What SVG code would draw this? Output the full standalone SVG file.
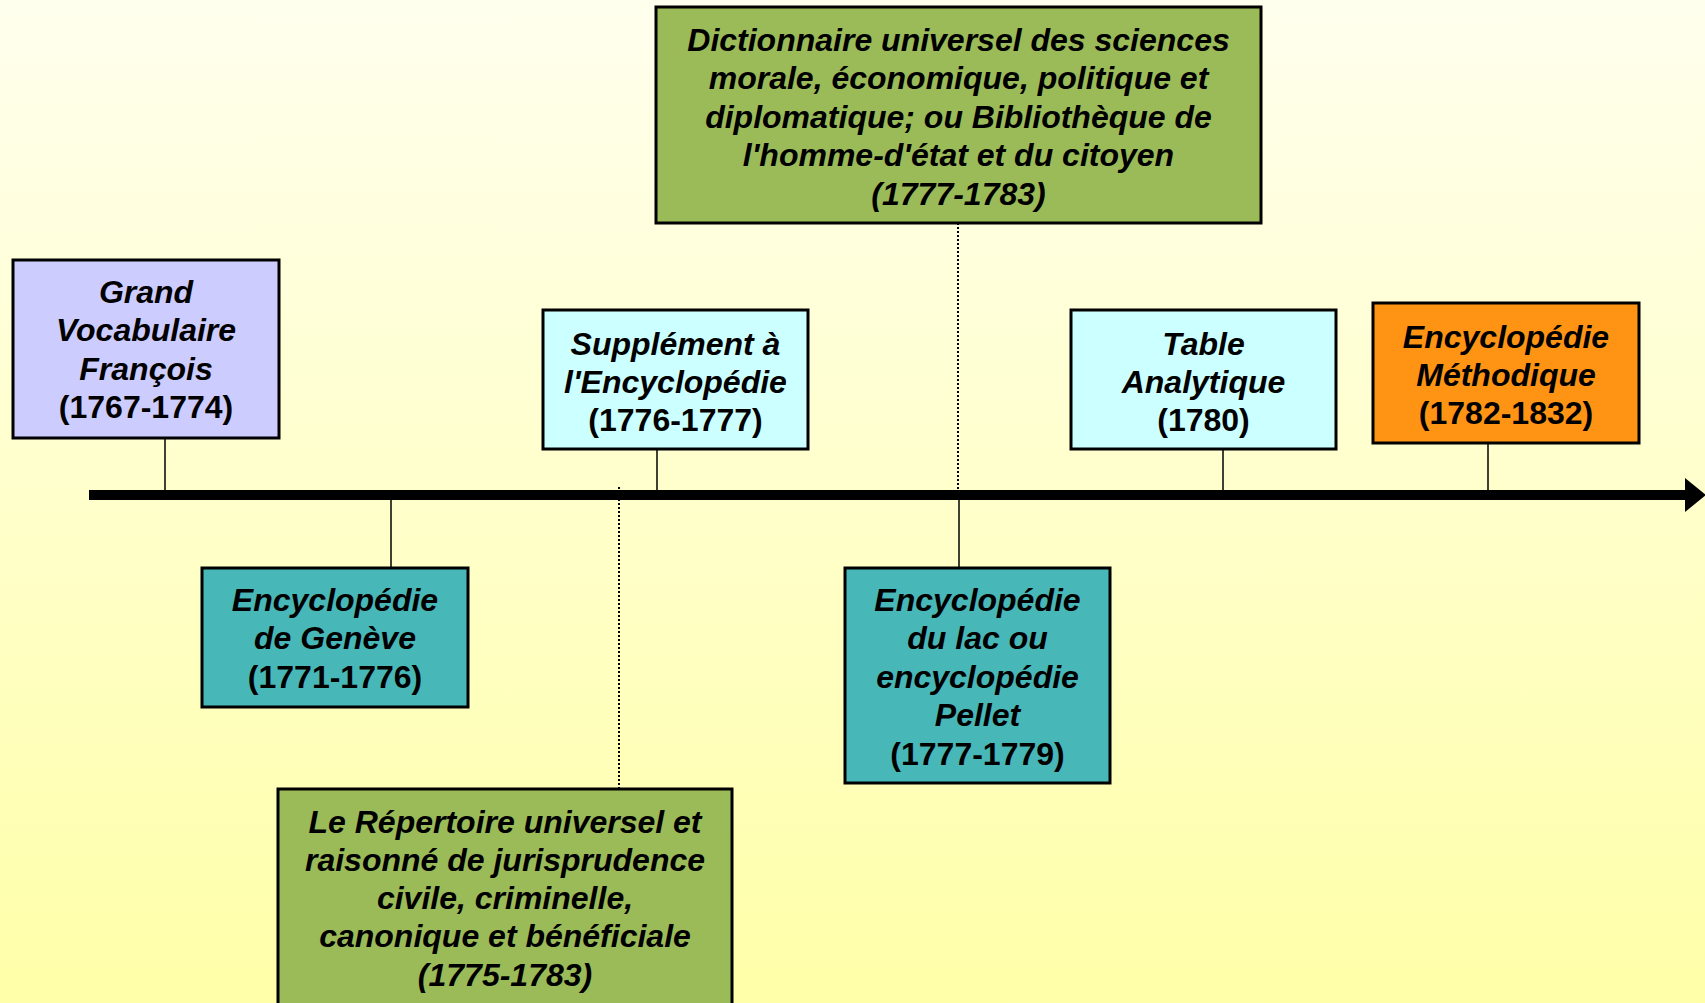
<svg xmlns="http://www.w3.org/2000/svg" width="1705" height="1003" viewBox="0 0 1705 1003">
  <defs>
    <linearGradient id="bg" x1="0" y1="0" x2="0" y2="1">
      <stop offset="0" stop-color="#FFFFEE"/>
      <stop offset="1" stop-color="#FFFFA8"/>
    </linearGradient>
    <marker id="arrow" markerUnits="userSpaceOnUse" markerWidth="22" markerHeight="34" refX="0" refY="17" orient="auto">
      <polygon points="0,0 21,17 0,34" fill="#000"/>
    </marker>
    <style>
      .box { stroke: #000; stroke-width: 3; }
      .t { font-family: "Liberation Sans", Arial, sans-serif; font-size: 32px; font-weight: bold; font-style: italic; fill: #000; text-anchor: middle; }
      .n { font-style: normal; }
      .tick { stroke: #000; stroke-width: 1.5; fill: none; }
      .dot { stroke: #000; stroke-width: 2; stroke-dasharray: 2 2; fill: none; }
      .lav { fill: #CCCCFF; }
      .cyan { fill: #CCFFFF; }
      .green { fill: #9BBB59; }
      .teal { fill: #47B7B8; }
      .orange { fill: #FF9414; }
    </style>
  </defs>
  <rect x="0" y="0" width="1705" height="1003" fill="url(#bg)"/>

  <g id="connectors">
    <line class="tick" x1="165" y1="438" x2="165" y2="495"/>
    <line class="tick" x1="657" y1="450" x2="657" y2="495"/>
    <line class="tick" x1="1223" y1="449" x2="1223" y2="495"/>
    <line class="tick" x1="1488" y1="443" x2="1488" y2="495"/>
    <line class="tick" x1="391" y1="495" x2="391" y2="568"/>
    <line class="tick" x1="959" y1="495" x2="959" y2="568"/>
    <line class="dot" x1="958" y1="223" x2="958" y2="492"/>
    <line class="dot" x1="619" y1="487" x2="619" y2="788"/>
    <line x1="89" y1="495" x2="1685" y2="495" stroke="#000" stroke-width="10" marker-end="url(#arrow)"/>
  </g>

  <g id="grand-vocabulaire">
    <rect class="box lav" x="13" y="260" width="266" height="178"/>
    <text class="t" x="146" y="303">Grand</text>
    <text class="t" x="146" y="341">Vocabulaire</text>
    <text class="t" x="146" y="380">François</text>
    <text class="t n" x="146" y="418">(1767-1774)</text>
  </g>

  <g id="supplement">
    <rect class="box cyan" x="543" y="310" width="265" height="139"/>
    <text class="t" x="675.5" y="355">Supplément à</text>
    <text class="t" x="675.5" y="393">l'Encyclopédie</text>
    <text class="t n" x="675.5" y="431">(1776-1777)</text>
  </g>

  <g id="dictionnaire">
    <rect class="box green" x="656" y="7" width="605" height="216"/>
    <text class="t" x="958.5" y="51">Dictionnaire universel des sciences</text>
    <text class="t" x="958.5" y="89">morale, économique, politique et</text>
    <text class="t" x="958.5" y="128">diplomatique; ou Bibliothèque de</text>
    <text class="t" x="958.5" y="166">l'homme-d'état et du citoyen</text>
    <text class="t" x="958.5" y="205">(1777-1783)</text>
  </g>

  <g id="table-analytique">
    <rect class="box cyan" x="1071" y="310" width="265" height="139"/>
    <text class="t" x="1203.5" y="355">Table</text>
    <text class="t" x="1203.5" y="393">Analytique</text>
    <text class="t n" x="1203.5" y="431">(1780)</text>
  </g>

  <g id="methodique">
    <rect class="box orange" x="1373" y="303" width="266" height="140"/>
    <text class="t" x="1506" y="348">Encyclopédie</text>
    <text class="t" x="1506" y="386">Méthodique</text>
    <text class="t n" x="1506" y="424">(1782-1832)</text>
  </g>

  <g id="geneve">
    <rect class="box teal" x="202" y="568" width="266" height="139"/>
    <text class="t" x="335" y="611">Encyclopédie</text>
    <text class="t" x="335" y="649">de Genève</text>
    <text class="t n" x="335" y="688">(1771-1776)</text>
  </g>

  <g id="pellet">
    <rect class="box teal" x="845" y="568" width="265" height="215"/>
    <text class="t" x="977.5" y="611">Encyclopédie</text>
    <text class="t" x="977.5" y="649">du lac ou</text>
    <text class="t" x="977.5" y="688">encyclopédie</text>
    <text class="t" x="977.5" y="726">Pellet</text>
    <text class="t n" x="977.5" y="765">(1777-1779)</text>
  </g>

  <g id="repertoire">
    <rect class="box green" x="278" y="789" width="454" height="230"/>
    <text class="t" x="505" y="833">Le Répertoire universel et</text>
    <text class="t" x="505" y="871">raisonné de jurisprudence</text>
    <text class="t" x="505" y="909">civile, criminelle,</text>
    <text class="t" x="505" y="947">canonique et bénéficiale</text>
    <text class="t" x="505" y="986">(1775-1783)</text>
  </g>
</svg>
